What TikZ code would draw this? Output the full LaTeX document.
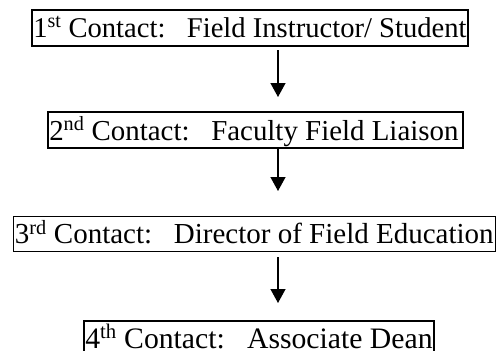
\documentclass[tikz,border=0pt]{standalone}
\usepackage{fontspec}
\setmainfont{Liberation Serif}
\usetikzlibrary{arrows.meta}
\newcommand{\stagetext}[3]{\fontsize{#1}{#1}\selectfont\makebox[#2][l]{#3}}
\begin{document}
\begin{tikzpicture}[x=1pt,y=1pt,
  stagebox/.style={draw, line width=1.5pt, anchor=base west, inner xsep=1.5pt, inner ysep=0pt,
    text height=27pt, text depth=9pt},
  flow/.style={line width=1.3pt, -{Triangle[width=15pt,length=14pt]}}]
\useasboundingbox (0,0) rectangle (496,-351);
\node[stagebox] (c1) at (31,-37) {\stagetext{28.6pt}{433pt}{1\textsuperscript{st} Contact:\hspace{0.75em}Field Instructor/ Student}};
\node[stagebox, text height=28pt, text depth=8pt] (c2) at (47,-140) {\stagetext{28.9pt}{412pt}{2\textsuperscript{nd} Contact:\hspace{0.75em}Faculty Field Liaison}};
\node[stagebox, text height=27pt, text depth=8pt] (c3) at (12.5,-243.5) {\stagetext{29pt}{479.5pt}{3\textsuperscript{rd} Contact:\hspace{0.75em}Director of Field Education}};
\node[stagebox] (c4) at (83,-348) {\stagetext{29.7pt}{347pt}{4\textsuperscript{th} Contact:\hspace{0.75em}Associate Dean}};
\coordinate (a1s) at (278,-50);
\coordinate (a1e) at (278,-97);
\coordinate (a2s) at (278,-147);
\coordinate (a2e) at (278,-191);
\coordinate (a3s) at (278,-257);
\coordinate (a3e) at (278,-303);
\draw[flow] (a1s) -- (a1e);
\draw[flow] (a2s) -- (a2e);
\draw[flow] (a3s) -- (a3e);
\end{tikzpicture}
\end{document}
